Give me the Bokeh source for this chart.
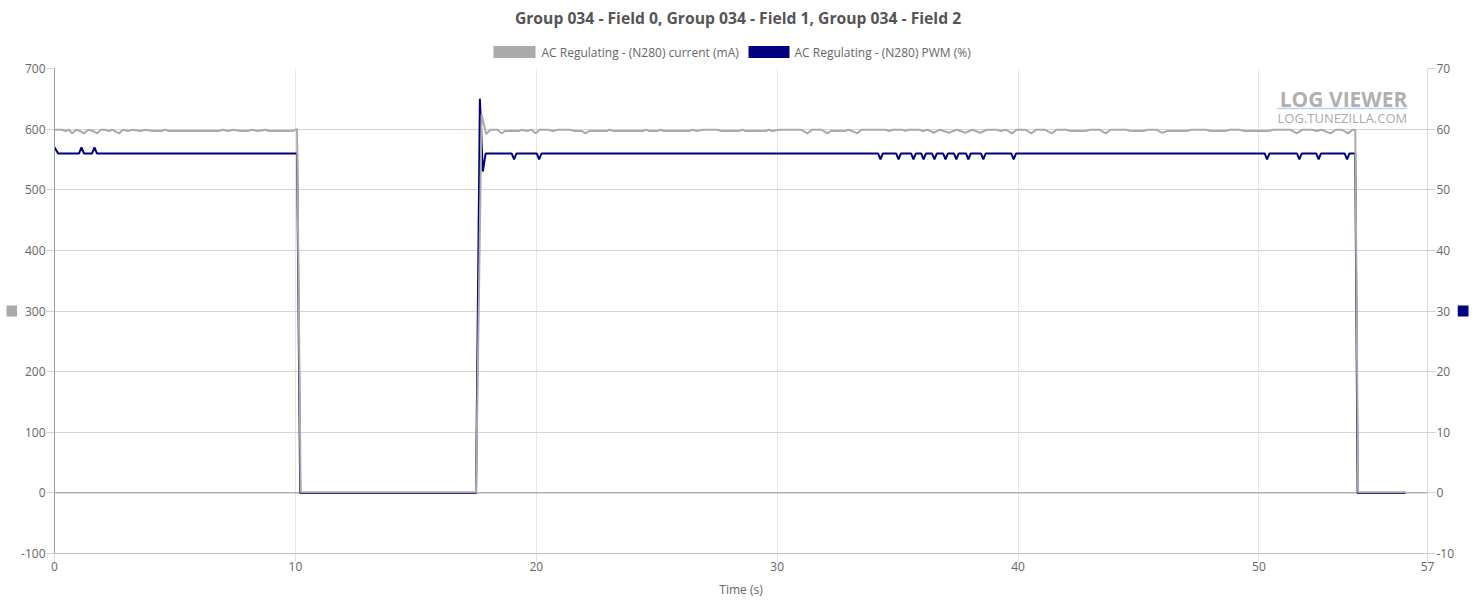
from bokeh.plotting import figure
from bokeh.layouts import column, row
from bokeh.models import (Range1d, LinearAxis, FixedTicker, Span, Label, ColumnDataSource)
from bokeh.core.properties import value
from bokeh.embed import file_html
from bokeh.resources import INLINE

# ---------------- data ----------------
title_text = "Group 034 - Field 0, Group 034 - Field 1, Group 034 - Field 2"
series_names = ["AC Regulating - (N280) current (mA)", "AC Regulating - (N280) PWM (%)"]
x_ticks = [0, 10, 20, 30, 40, 50, 57]
left_ticks = [-100, 0, 100, 200, 300, 400, 500, 600, 700]
right_ticks = [-10, 0, 10, 20, 30, 40, 50, 60, 70]
left_tick_labels = {t: str(t) for t in left_ticks}
right_tick_labels = {t: str(t) for t in right_ticks}

current_time = [
    0.00, 0.30, 0.45, 0.60, 0.73, 0.90, 1.05, 1.22, 1.40, 1.60, 1.77, 1.92, 2.10, 2.25, 2.40,
    2.67, 2.85, 3.05, 3.25, 3.55, 3.80, 4.05, 4.45, 4.60, 4.75, 6.80, 7.00, 7.20, 7.45, 7.70,
    8.00, 8.20, 8.45, 8.75, 8.90, 9.90, 10.07, 10.22, 17.50, 17.73, 17.92, 18.10, 18.40, 18.56,
    18.70, 19.30, 19.41, 19.60, 19.80, 19.97, 20.15, 20.50, 20.70, 20.90, 21.40, 21.60, 21.90,
    22.04, 22.20, 22.95, 23.05, 23.20, 24.45, 24.55, 24.70, 25.05, 25.15, 25.30, 26.35, 26.50,
    26.65, 26.95, 27.50, 27.70, 28.45, 28.55, 28.70, 29.55, 29.65, 29.80, 30.10, 31.00, 31.25,
    31.45, 31.85, 32.08, 32.25, 32.80, 32.95, 33.10, 33.32, 33.50, 34.50, 34.65, 34.80, 35.20,
    35.30, 35.45, 35.90, 36.05, 36.25, 36.50, 36.75, 37.13, 37.45, 37.82, 38.10, 38.44, 38.70,
    39.10, 39.30, 39.50, 39.75, 39.95, 40.30, 40.55, 40.75, 41.10, 41.40, 41.60, 42.00, 42.20,
    42.80, 43.00, 43.40, 43.63, 43.85, 44.50, 44.70, 45.20, 45.40, 45.75, 45.98, 46.20, 47.00,
    47.20, 47.80, 48.00, 48.60, 48.80, 49.20, 49.40, 50.40, 50.60, 51.30, 51.58, 51.80, 52.20,
    52.40, 52.60, 52.97, 53.20, 53.45, 53.70, 53.90, 54.00, 54.12, 56.08,
]
current_ma = [
    599, 599, 597, 599, 593, 599, 597, 593, 599, 597, 593, 599, 599, 597, 599,
    593, 599, 597, 599, 597, 599, 597, 597, 599, 597, 597, 599, 597, 599, 597,
    597, 599, 597, 599, 597, 597, 600, 1, 1, 624, 592, 599, 599, 593,
    597, 597, 599, 597, 599, 593, 599, 599, 597, 599, 599, 597, 597,
    593, 597, 597, 599, 597, 597, 599, 597, 597, 599, 597, 597, 599,
    597, 599, 599, 597, 597, 599, 597, 597, 599, 597, 599, 599, 593,
    599, 599, 593, 597, 597, 599, 597, 593, 599, 599, 597, 599, 599,
    597, 599, 599, 597, 599, 594, 599, 594, 599, 594, 599, 594, 599,
    599, 597, 599, 593, 599, 599, 593, 599, 599, 593, 599, 599, 597,
    597, 599, 599, 593, 599, 599, 597, 597, 599, 599, 594, 597, 597,
    599, 599, 597, 597, 599, 599, 597, 597, 599, 599, 593, 599, 599,
    597, 599, 593, 599, 599, 593, 599, 599, 1, 1,
]

pwm_time = [
    0.00, 0.15, 1.02, 1.12, 1.22, 1.56, 1.66, 1.76, 10.07, 10.20, 17.50, 17.66, 17.78, 17.90,
    18.98, 19.08, 19.18, 20.02, 20.12, 20.22, 34.19, 34.29, 34.39, 34.94, 35.04, 35.14,
    35.56, 35.66, 35.76, 35.98, 36.08, 36.18, 36.43, 36.53, 36.63, 36.89, 36.99, 37.09,
    37.34, 37.44, 37.54, 37.84, 37.94, 38.04, 38.46, 38.56, 38.66, 39.72, 39.82, 39.92,
    50.24, 50.34, 50.44, 51.58, 51.68, 51.78, 52.38, 52.48, 52.58, 53.56, 53.66, 53.76,
    54.00, 54.10, 56.08,
]
pwm_pct = [
    57, 56, 56, 57, 56, 56, 57, 56, 56, 0, 0, 65, 53, 56,
    56, 55, 56, 56, 55, 56, 56, 55, 56, 56, 55, 56,
    56, 55, 56, 56, 55, 56, 56, 55, 56, 56, 55, 56,
    56, 55, 56, 56, 55, 56, 56, 55, 56, 56, 55, 56,
    56, 55, 56, 56, 55, 56, 56, 55, 56, 56, 55, 56,
    56, 0, 0,
]

# ---------------- styling ----------------
FONT = "Open Sans"
GRAY = "#aaaaaa"
NAVY = "#000080"
TXT = "#666666"
W, H = 1475, 600
HEAD_H = 60
MAIN_H = H - HEAD_H
FRAME_L, FRAME_R = 54, 1427          # frame edges in page pixels
STRIP_L, STRIP_R = 17, 18            # side strips that hold the axis colour boxes
TOP_B, BOT_B = 8, 47


def strip(width, y0, y1, x, y, color):
    s = figure(width=width, height=MAIN_H, output_backend="svg", toolbar_location=None,
               x_range=Range1d(0, width), y_range=Range1d(y0, y1),
               x_axis_type=None, y_axis_type=None,
               min_border_left=0, min_border_right=0,
               min_border_top=TOP_B, min_border_bottom=BOT_B)
    s.outline_line_color = None
    s.grid.visible = False
    s.scatter(x=[x], y=[y], marker="square", size=11, fill_color=color, line_color=None)
    return s


# ---- header (title + legend) in page-pixel space ----
head = figure(width=W, height=HEAD_H, output_backend="svg", toolbar_location=None,
              x_range=Range1d(FRAME_L, FRAME_R), y_range=Range1d(HEAD_H, 0),
              x_axis_type=None, y_axis_type=None,
              min_border_left=FRAME_L, min_border_right=W - FRAME_R,
              min_border_top=0, min_border_bottom=0)
head.outline_line_color = None
head.grid.visible = False
head.text(x=[W / 2], y=[17], text=[title_text], text_align="center", text_baseline="middle",
          text_font=value(FONT), text_font_style="bold", text_font_size="15.7px",
          text_color="#555555")
legend_box_left = [493, 748]
legend_box_right = [535, 789]
legend_text_x = [541, 794]
head.quad(left=legend_box_left, right=legend_box_right, top=[45.5, 45.5], bottom=[57.5, 57.5],
          fill_color=[GRAY, NAVY], line_color=None)
head.text(x=legend_text_x, y=[51.5, 51.5], text=series_names, text_align="left",
          text_baseline="middle", text_font=value(FONT), text_font_size="12px",
          text_color=TXT)

# ---- main chart ----
main_w = W - STRIP_L - STRIP_R
p = figure(width=main_w, height=MAIN_H, output_backend="svg", toolbar_location=None,
           x_range=Range1d(0, 57), y_range=Range1d(-100, 700),
           min_border_left=FRAME_L - STRIP_L, min_border_right=(W - STRIP_R) - FRAME_R,
           min_border_top=TOP_B, min_border_bottom=BOT_B)
p.extra_y_ranges = {"pwm": Range1d(-10, 70)}
p.outline_line_color = None

# x axis
xa = p.xaxis[0]
xa.ticker = FixedTicker(ticks=x_ticks)
xa.axis_label = "Time (s)"
xa.axis_label_text_font = FONT
xa.axis_label_text_font_size = "12px"
xa.axis_label_text_font_style = "normal"
xa.axis_label_text_color = TXT
xa.axis_label_standoff = 7
xa.major_label_text_font = FONT
xa.major_label_text_font_size = "12px"
xa.major_label_text_color = TXT
xa.major_label_standoff = 0
xa.major_tick_in = 0
xa.major_tick_out = 8
xa.major_tick_line_color = "#e0e0e0"
xa.minor_tick_line_color = None
xa.axis_line_color = "#c4c4c4"

# left y axis
ya = p.yaxis[0]
ya.ticker = FixedTicker(ticks=left_ticks)
ya.major_label_overrides = left_tick_labels
ya.major_label_text_font = FONT
ya.major_label_text_font_size = "12px"
ya.major_label_text_color = TXT
ya.major_label_standoff = 1
ya.major_tick_in = 0
ya.major_tick_out = 8
ya.major_tick_line_color = "#d0d0d0"
ya.minor_tick_line_color = None
ya.axis_line_color = "#999999"

# right y axis
ra = LinearAxis(y_range_name="pwm", ticker=FixedTicker(ticks=right_ticks))
ra.major_label_overrides = right_tick_labels
ra.major_label_text_font = FONT
ra.major_label_text_font_size = "12px"
ra.major_label_text_color = TXT
ra.major_label_standoff = 1
ra.major_tick_in = 0
ra.major_tick_out = 8
ra.major_tick_line_color = "#d0d0d0"
ra.minor_tick_line_color = None
ra.axis_line_color = "#d8d8d8"
p.add_layout(ra, "right")

p.xgrid.grid_line_color = "#e6e6e6"
p.ygrid.grid_line_color = "#d4d4d4"
p.ygrid.ticker = FixedTicker(ticks=left_ticks)
p.xgrid.ticker = FixedTicker(ticks=x_ticks)

p.add_layout(Span(location=0, dimension="width", line_color="#999999", line_width=1,
                  level="underlay"))

# data lines (PWM drawn first, current on top)
src_pwm = ColumnDataSource(dict(t=pwm_time, v=pwm_pct))
src_cur = ColumnDataSource(dict(t=current_time, v=current_ma))
p.line("t", "v", source=src_pwm, y_range_name="pwm", line_color=NAVY, line_width=2)
p.line("t", "v", source=src_cur, line_color=GRAY, line_width=2)

# watermark
p.add_layout(Label(x=56.16, y=650, text="LOG VIEWER", text_align="right", text_baseline="middle",
                   text_font=FONT, text_font_style="bold", text_font_size="21px",
                   text_color="#b0b0b0"))
p.add_layout(Label(x=56.16, y=619, text="LOG.TUNEZILLA.COM", text_align="right",
                   text_baseline="middle", text_font=FONT, text_font_size="13px",
                   text_color="#aaaaaa"))
p.segment(x0=[50.77], y0=[634], x1=[56.16], y1=[634], line_color="#b9d3ea", line_width=1.5)

left_strip = strip(STRIP_L, -100, 700, 11.5, 300, GRAY)
right_strip = strip(STRIP_R, -10, 70, 5.5, 30, NAVY)

layout = column(head, row(left_strip, p, right_strip, spacing=0), spacing=0)
open("out.html", "w").write(file_html(layout, INLINE))
